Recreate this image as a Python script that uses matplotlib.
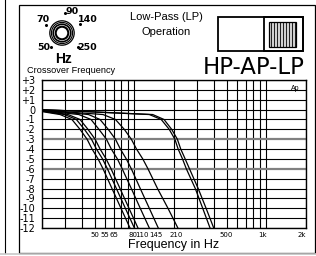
import matplotlib.pyplot as plt
from matplotlib.patches import Circle, Rectangle

plt.rcParams['font.family'] = ['Liberation Sans', 'DejaVu Sans']

# response curves: frequency (Hz) and level (dB)
curve_freqs = [
    [20, 27.4, 33.7, 38.8, 43.9, 47.9, 53.2, 58.0, 67.8, 79.3, 92.8],
    [20, 29.6, 36.4, 41.9, 47.4, 51.7, 57.5, 62.6, 73.2, 85.6, 100.2],
    [20, 31.5, 38.8, 44.6, 50.5, 55.1, 61.2, 66.7, 78.0, 91.2, 106.7],
    [20, 38.0, 47.0, 54.0, 61.5, 67.0, 74.5, 81.0, 95.0, 111.0, 130.0],
    [20, 45.0, 55.0, 63.5, 72.0, 78.5, 87.0, 95.0, 111.0, 130.0, 152.0],
    [20, 58.0, 72.0, 84.0, 95.0, 104.0, 116.0, 127.0, 150.0, 180.0, 214.0],
    [20, 130.0, 160.0, 184.0, 203.0, 215.0, 232.0, 248.0, 290.0, 330.0, 375.0],
    [20, 138.0, 168.0, 192.0, 212.0, 225.0, 243.0, 262.0, 305.0, 350.0, 400.0],
]
curve_levels = [
    [-0.2, -0.5, -1, -2, -3, -4, -5, -6, -8, -10, -12],
    [-0.15, -0.5, -1, -2, -3, -4, -5, -6, -8, -10, -12],
    [-0.1, -0.5, -1, -2, -3, -4, -5, -6, -8, -10, -12],
    [-0.1, -0.5, -1, -2, -3, -4, -5, -6, -8, -10, -12],
    [-0.05, -0.5, -1, -2, -3, -4, -5, -6, -8, -10, -12],
    [-0.05, -0.5, -1, -2, -3, -4, -5, -6, -8, -10, -12],
    [0.0, -0.5, -1, -2, -3, -4, -5, -6, -8, -10, -12],
    [0.0, -0.5, -1, -2, -3, -4, -5, -6, -8, -10, -12],
]

grid_freqs = [20, 30, 40, 50, 60, 70, 80, 90, 100,
              200, 300, 400, 500, 600, 700, 800, 900, 1000, 2000]
grid_levels = list(range(-12, 4))
level_labels = ['+3' if v == 3 else '+2' if v == 2 else '+1' if v == 1 else str(v)
                for v in grid_levels]

# where the axis labels sit along the frequency axis
label_freqs = [50, 60, 70, 97, 115, 146, 207, 500, 940, 1870]
label_texts = ['50', '55', '65', '80', '110', '145', '210', '500', '1k', '2k']

knob_marks = ['70', '90', '140', '50', '250']

W, H = 316, 256
fig = plt.figure(figsize=(W / 100, H / 100), dpi=100)

# background layer in pixel coordinates for the panel decorations
bg = fig.add_axes([0, 0, 1, 1])
bg.set_xlim(0, W)
bg.set_ylim(H, 0)
bg.axis('off')

bg.plot([5, 5], [0, 253], color='black', lw=0.8)
bg.plot([0, W], [253.5, 253.5], color='#c8c8c8', lw=1.2)
bg.add_patch(Rectangle((19, 5), 296, 248, fill=False, ec='black', lw=0.9))

# crossover knob
kx, ky = 62, 33
for r, lw in [(12.2, 0.9), (10.6, 0.8), (8.8, 1.2), (6.3, 1.5)]:
    bg.add_patch(Circle((kx, ky), r, fill=False, ec='black', lw=lw))
mark_pos = [(43, 20), (72, 11), (88, 20), (44, 47), (87, 48)]
dot_pos = [(46, 25), (65, 13), (80, 24), (51, 47), (78, 47)]
for t, (x, y) in zip(knob_marks, mark_pos):
    bg.text(x, y, t, ha='center', va='center', fontsize=6.8, fontweight='bold',
            family='Liberation Sans Narrow')
for x, y in dot_pos:
    bg.plot(x, y, 'o', color='black', ms=1.2)
bg.text(63, 59, 'Hz', ha='center', va='center', fontsize=10, fontweight='bold')
bg.text(71, 70.5, 'Crossover Frequency', ha='center', va='center', fontsize=6.6)

bg.text(166, 17.5, 'Low-Pass (LP)', ha='center', va='center', fontsize=8)
bg.text(166, 32, 'Operation', ha='center', va='center', fontsize=8)

# selector switch
bg.add_patch(Rectangle((218, 17), 85, 34, fill=False, ec='black', lw=1.3))
bg.add_patch(Rectangle((264, 17), 39, 34, fill=False, ec='black', lw=1.3))
bg.add_patch(Rectangle((269, 22), 27, 25, fc='#d0d0d0', ec='black', lw=0.9))
for hx in range(271, 296, 3):
    bg.plot([hx, hx], [22, 47], color='black', lw=0.6)

bg.text(305, 68, 'HP-AP-LP', ha='right', va='center', fontsize=16.5,
        family='Liberation Sans Narrow')

# response chart
ax = fig.add_axes([42 / W, 1 - 228 / H, 264 / W, 148 / H])
ax.set_xscale('log')
ax.set_xlim(20, 2000)
ax.set_ylim(-12, 3)
for f in grid_freqs:
    ax.axvline(f, color='black', lw=0.8, zorder=1)
for v in grid_levels:
    c, lw = ('#808080', 1.6) if v in (-3, -6) else ('black', 0.8)
    ax.axhline(v, color=c, lw=lw, zorder=1)
for fr, lv in zip(curve_freqs, curve_levels):
    ax.plot(fr, lv, color='black', lw=0.9, zorder=3)

ax.set_xticks(label_freqs)
ax.set_xticklabels(label_texts)
ax.xaxis.set_minor_locator(plt.NullLocator())
ax.set_yticks(grid_levels)
ax.set_yticklabels(level_labels)
ax.tick_params(length=0)
for lab in ax.get_xticklabels():
    lab.set_family('Liberation Sans Narrow')
    lab.set_fontsize(5)
for lab in ax.get_yticklabels():
    lab.set_family('Liberation Sans Narrow')
    lab.set_fontsize(7)
ax.tick_params(axis='x', pad=3)
ax.tick_params(axis='y', pad=5)
for s in ax.spines.values():
    s.set_linewidth(1.0)
ax.text(0.975, 0.965, 'Ap', transform=ax.transAxes, ha='right', va='top', fontsize=5)
ax.set_xlabel('Frequency in Hz', fontsize=9, labelpad=0.5)

fig.savefig('out.png', dpi=100)
